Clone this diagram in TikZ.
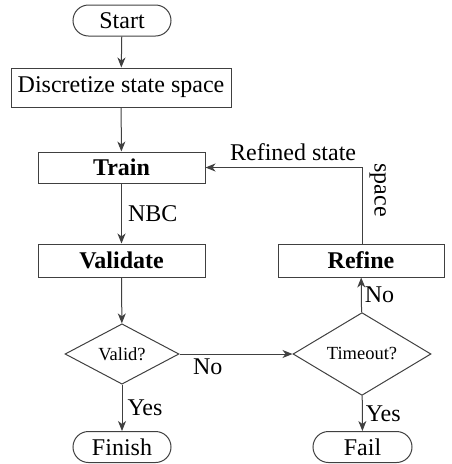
\documentclass[tikz,border=0pt]{standalone}
\usepackage{fontspec}
\setmainfont{Liberation Serif}
\usetikzlibrary{shapes.geometric,shapes.misc,arrows.meta}

\begin{document}
\begin{tikzpicture}[x=1pt,y=-1pt,
		font=\fontsize{24}{28}\selectfont,
		line width=1pt,
		term/.style={draw=black!75, rounded rectangle, minimum width=98pt, minimum height=31pt, inner sep=0pt},
		box/.style={draw=black!75, rectangle, inner sep=0pt},
		test/.style={draw=black!75, diamond, inner sep=0pt, font=\fontsize{18.5}{20}\selectfont},
		flow/.style={draw=black!75, -{Stealth[length=10pt,width=8pt,inset=3pt]}}]
		\useasboundingbox (0,0) rectangle (451,464);
		%
		\node[term] (start) at (122,20.5) {Start};
		\node[box, minimum width=220pt, minimum height=39pt] (disc) at (121,87.5) {Discretize state space};
		\node[box, minimum width=167pt, minimum height=31pt] (train) at (121.5,167.5) {\textbf{Train}};
		\node[box, minimum width=167pt, minimum height=33pt] (valid) at (121.5,260.5) {\textbf{Validate}};
		\node[box, minimum width=166pt, minimum height=33pt] (refine) at (361,260.5) {\textbf{Refine}};
		%
		\node[test, minimum width=114pt, minimum height=56pt] (ok) at (122,354) {Valid?};
		\node[test, minimum width=138pt, minimum height=68pt] (tout) at (362,354) {Timeout?};
		%
		\node[term] (finish) at (122,447) {Finish};
		\node[term, minimum width=99pt] (fail) at (362.5,447) {Fail};
		%
		\draw[flow] (start) -- (disc);
		\draw[flow] (disc) -- (train);
		\draw[flow] (train) -- node[right, inner sep=6pt]{NBC} (valid);
		\draw[flow] (valid) -- (ok);
		\draw[flow] (ok) -- node[right, inner sep=5pt]{Yes} (finish);
		\draw[flow] (ok) -- node[pos=0.25, below, inner sep=4pt]{No} (tout);
		\draw[flow] (tout) -- node[right, inner sep=3pt]{No} (refine);
		\draw[flow] (tout) -- node[right, inner sep=3pt]{Yes} (fail);
		%
		\draw[flow] (refine.north -| tout.north) |- node[pos=0.72, above, inner sep=6pt]{Refined state}
			node[pos=0.35, anchor=south, rotate=-90, inner sep=7pt]{space} (train.east);
\end{tikzpicture}
\end{document}
